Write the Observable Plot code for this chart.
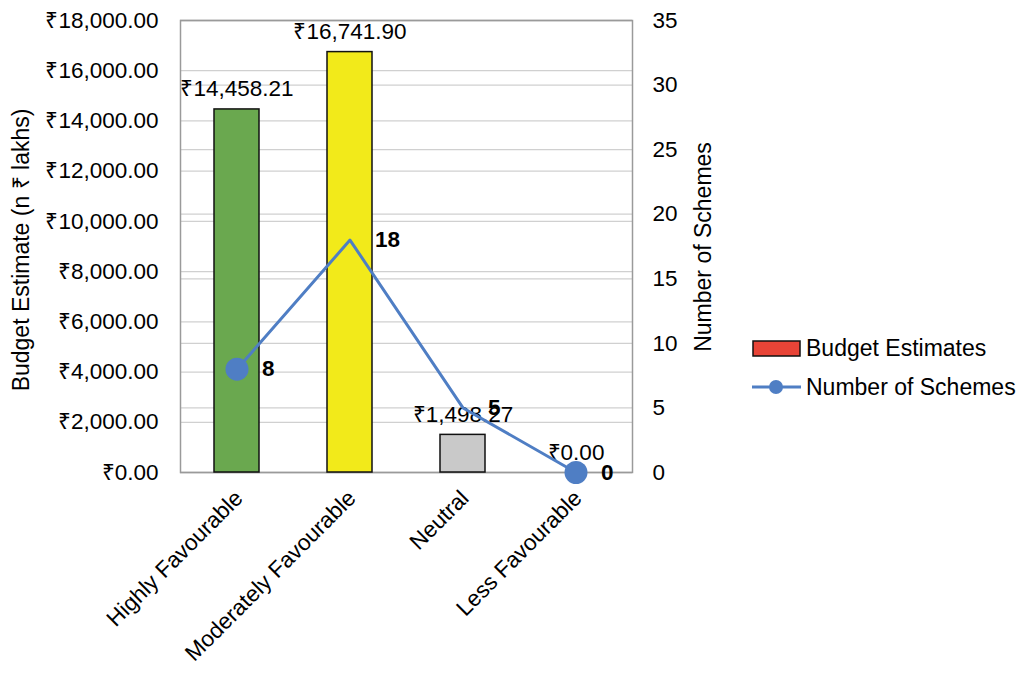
<!DOCTYPE html>
<html><head><meta charset="utf-8">
<script src="https://cdn.jsdelivr.net/npm/d3@7"></script>
<script src="https://cdn.jsdelivr.net/npm/@observablehq/plot@0.6"></script>
<style>body{margin:0;background:#fff}</style>
</head><body><div id="chart"></div>
<script>
const categories = ["Highly Favourable", "Moderately Favourable", "Neutral", "Less Favourable"];
const budgetEstimates = [14458.21, 16741.90, 1498.27, 0.00];
const numberOfSchemes = [8, 18, 5, 0];
const barColors = ["#6AA84F", "#F2EA1A", "#C9C9C9", "#E84437"];
const leftTicks = [0, 2000, 4000, 6000, 8000, 10000, 12000, 14000, 16000, 18000];
const rightTicks = [0, 5, 10, 15, 20, 25, 30, 35];
const leftTitle = "Budget Estimate (n ₹ lakhs)";
const rightTitle = "Number of Schemes";
const seriesNames = ["Budget Estimates", "Number of Schemes"];
const markerCategories = ["Highly Favourable", "Less Favourable"];

const LMAX = 18000, RMAX = 35, k = LMAX / RMAX;
const data = categories.map((c, i) => ({category: c, budget: budgetEstimates[i], schemes: numberOfSchemes[i], color: barColors[i]}));
const rupee = d => "₹" + d3.format(",.2f")(d);
const FONT = "'Liberation Sans', Arial, sans-serif";
const FS = 22.5, TFS = 23;
const lineColor = "#4F7EC4";

const plot = Plot.plot({
  width: 1025, height: 675,
  marginLeft: 180, marginRight: 393, marginTop: 20, marginBottom: 203,
  style: {fontFamily: FONT, fontSize: FS + "px", color: "#000", background: "#fff", overflow: "visible"},
  x: {domain: categories, paddingInner: 0.6, paddingOuter: 0.3, label: null},
  y: {domain: [0, LMAX], label: null},
  marks: [
    Plot.gridY(leftTicks, {stroke: "#d0d0d0", strokeOpacity: 1, strokeWidth: 1.3}),
    Plot.gridY(rightTicks.map(v => v * k), {stroke: "#d0d0d0", strokeOpacity: 1, strokeWidth: 1.3}),
    Plot.frame({stroke: "#9a9a9a", strokeWidth: 1.5}),
    Plot.barY(data, {x: "category", y: "budget", fill: "color", stroke: "#111", strokeWidth: 1.5}),
    Plot.text(data, {x: "category", y: "budget", text: d => rupee(d.budget), dy: -13, lineAnchor: "bottom", fontSize: FS}),
    Plot.line(data, {x: "category", y: d => d.schemes * k, stroke: lineColor, strokeWidth: 3}),
    Plot.dot(data.filter(d => markerCategories.includes(d.category)), {x: "category", y: d => d.schemes * k, r: 11.5, fill: lineColor, stroke: null}),
    Plot.text(data, {x: "category", y: d => d.schemes * k, text: d => String(d.schemes), dx: 25, textAnchor: "start", fontWeight: "bold", fontSize: FS}),
    Plot.axisY(leftTicks, {anchor: "left", tickFormat: rupee, tickSize: 0, tickPadding: 22, label: null, fontSize: FS}),
    Plot.axisY(rightTicks.map(v => v * k), {anchor: "right", tickFormat: d => String(Math.round(d / k)), tickSize: 0, tickPadding: 20, label: null, textAnchor: "start", fontSize: FS}),
    Plot.axisX({anchor: "bottom", tickRotate: -45, tickSize: 0, tickPadding: 12, dx: 2, dy: 10, label: null, fontSize: FS})
  ]
});
document.getElementById("chart").appendChild(plot);

const svg = d3.select(plot);
svg.append("text").attr("transform", `translate(29,250) rotate(-90)`).attr("text-anchor", "middle")
  .attr("font-family", FONT).attr("font-size", TFS).attr("fill", "#000").text(leftTitle);
svg.append("text").attr("transform", `translate(711,247) rotate(-90)`).attr("text-anchor", "middle")
  .attr("font-family", FONT).attr("font-size", TFS).attr("fill", "#000").text(rightTitle);

const lg = svg.append("g").attr("font-family", FONT).attr("font-size", TFS).attr("fill", "#000").attr("text-anchor", "start");
lg.append("rect").attr("x", 753).attr("y", 341).attr("width", 47).attr("height", 15).attr("fill", barColors[3]).attr("stroke", "#111").attr("stroke-width", 1.5);
lg.append("text").attr("x", 806).attr("y", 348).attr("dy", "0.35em").text(seriesNames[0]);
lg.append("line").attr("x1", 752).attr("x2", 801).attr("y1", 387).attr("y2", 387).attr("stroke", lineColor).attr("stroke-width", 3);
lg.append("circle").attr("cx", 776).attr("cy", 387).attr("r", 7).attr("fill", lineColor);
lg.append("text").attr("x", 806).attr("y", 387).attr("dy", "0.35em").text(seriesNames[1]);
</script></body></html>
